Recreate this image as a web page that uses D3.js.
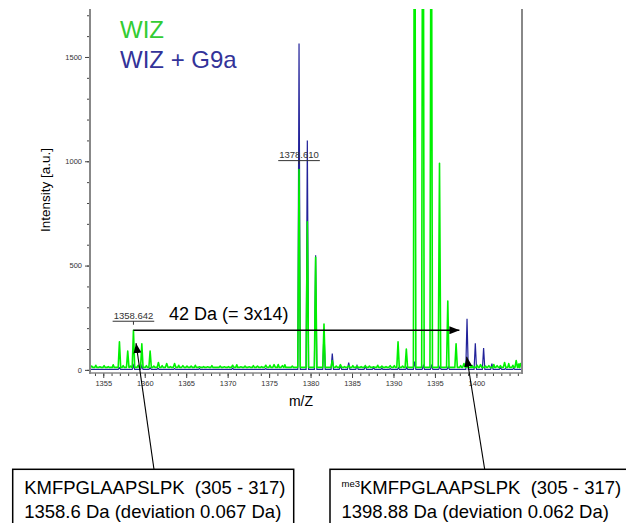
<!DOCTYPE html>
<html>
<head>
<meta charset="utf-8">
<script src="https://cdn.jsdelivr.net/npm/d3@7"></script>
<style>
  body { margin: 0; background: #fff; }
  svg { display: block; font-family: "Liberation Sans", Arial, sans-serif; }
  text { white-space: pre; }
</style>
</head>
<body>
<script>

// peaks: [m/z, intensity]
const wizPeaks = [
    [1356.95, 135], [1357.95, 90], [1358.64, 190], [1359.65, 125], [1360.65, 90],
    [1361.65, 35], [1362.65, 30], [1363.6, 30], [1364.6, 20], [1365.6, 18],
    [1366.6, 15], [1367.6, 15], [1368.6, 12], [1369.6, 15], [1370.6, 22],
    [1371.6, 15], [1372.6, 15], [1373.6, 18], [1374.6, 22], [1375.6, 25],
    [1376.6, 20], [1378.61, 960], [1379.61, 710], [1380.61, 540], [1381.62, 220],
    [1382.62, 45], [1383.6, 25], [1384.6, 20], [1385.6, 18], [1386.6, 20],
    [1387.6, 15], [1388.6, 18], [1389.6, 20], [1390.55, 135], [1391.55, 100],
    [1392.55, 3200], [1393.55, 3600], [1394.55, 3000], [1395.55, 990], [1396.55, 330],
    [1397.55, 125], [1398.5, 30], [1399.5, 20], [1400.5, 25], [1401.5, 20],
    [1402.5, 20], [1403.4, 35], [1404.8, 45], [1405.3, 30]
]

const g9aPeaks = [
    [1356.95, 10], [1358.64, 22], [1359.65, 20], [1360.65, 10],
    [1378.61, 1565], [1379.61, 1100], [1380.61, 550], [1381.62, 190], [1382.62, 78],
    [1383.6, 20], [1384.6, 35], [1385.6, 20], [1386.6, 18], [1387.6, 10],
    [1392.55, 40], [1393.6, 20], [1394.6, 20], [1395.6, 15], [1396.6, 15],
    [1398.87, 245], [1399.87, 128], [1400.87, 105], [1401.87, 30], [1402.9, 10]
]

// baseline noise
const wizNoise = [
    [1353.6, 18], [1354.1, 22], [1354.6, 15], [1355.1, 20], [1355.6, 16], [1356.2, 24],
    [1357.4, 20], [1358.3, 18], [1359.2, 22], [1360.2, 20], [1361.1, 18], [1362.1, 20],
    [1363.1, 16], [1364.1, 22], [1365.1, 18], [1366.1, 22], [1367.1, 16], [1368.1, 20],
    [1369.1, 18], [1370.1, 16], [1371.1, 24], [1372.1, 18], [1373.1, 20], [1374.1, 16],
    [1375.1, 22], [1376.1, 26], [1376.9, 24], [1377.8, 18], [1383.1, 18], [1384.1, 16],
    [1385.1, 20], [1386.1, 16], [1387.1, 18], [1388.1, 22], [1389.1, 16], [1390.1, 20],
    [1391.1, 18], [1398.1, 20], [1398.9, 16], [1399.4, 18], [1400.1, 22], [1401.1, 18],
    [1402.1, 26], [1402.9, 20], [1403.9, 30], [1404.4, 22], [1405.1, 28]
]

const g9aNoise = [
    [1361.6, 8], [1363.6, 6], [1366.6, 6], [1370.6, 8], [1374.6, 6], [1388.6, 8],
    [1389.6, 6], [1390.6, 10], [1391.6, 12], [1403.5, 6], [1404.5, 8]
]

const xMajor = [1355, 1360, 1365, 1370, 1375, 1380, 1385, 1390, 1395, 1400]
const yMajor = [0, 500, 1000, 1500]

const legendNames = ['WIZ', 'WIZ + G9a']
const legendColors = ['#33cc33', '#333399']

const peakLabels = [
    { mz: 1358.64, h: 190, text: '1358.642' },
    { mz: 1378.61, h: 960, text: '1378.610' }
]

const shiftFrom = [1358.64, 190]
const shiftTo = [1397.95, 190]
const shiftText = '42 Da (= 3x14)'

const boxes = [
    { pre: '', line1: 'KMFPGLAAPSLPK  (305 - 317)', line2: '1358.6 Da (deviation 0.067 Da)', tip: [1358.95, 128] },
    { pre: 'me3', line1: 'KMFPGLAAPSLPK  (305 - 317)', line2: '1398.88 Da (deviation 0.062 Da)', tip: [1398.83, 63] }
]

const W = 626, H = 523
const plot = { left: 90, right: 522, top: 9, bottom: 373 }

const svg = d3.select('body').append('svg')
    .attr('width', W)
    .attr('height', H)

const x = d3.scaleLinear().domain([1353.4, 1405.5]).range([plot.left, plot.right])
const y = d3.scaleLinear().domain([-15, 1730]).range([plot.bottom, plot.top])

svg.append('defs').append('clipPath').attr('id', 'clip')
    .append('rect')
    .attr('x', plot.left).attr('y', plot.top)
    .attr('width', plot.right - plot.left).attr('height', plot.bottom - plot.top)

const marker = svg.select('defs').append('marker')
    .attr('id', 'arrow')
    .attr('markerUnits', 'userSpaceOnUse')
    .attr('viewBox', '0 0 10 8')
    .attr('refX', 10).attr('refY', 4)
    .attr('markerWidth', 10).attr('markerHeight', 8)
    .attr('orient', 'auto')
marker.append('path').attr('d', 'M0,0L10,4L0,8Z').attr('fill', '#000')

// spectrum as thin triangular spikes over a flat baseline
function spectrum(peaks, noise, base) {
    const all = peaks.map(p => [p[0], p[1], 0.15])
        .concat(noise.map(p => [p[0], p[1], 0.12]))
        .sort((a, b) => a[0] - b[0])
    const pts = [[x.domain()[0], base]]
    all.forEach(p => {
        pts.push([p[0] - p[2], base], [p[0], p[1]], [p[0] + p[2], base])
    })
    pts.push([x.domain()[1], base])
    return pts
}

const line = d3.line().x(d => x(d[0])).y(d => y(d[1]))

const spec = svg.append('g').attr('clip-path', 'url(#clip)')
spec.append('path')
    .attr('d', line(spectrum(g9aPeaks, g9aNoise, 2)))
    .attr('fill', 'none')
    .attr('stroke', '#22229a')
    .attr('stroke-width', 1.2)
spec.append('path')
    .attr('d', line(spectrum(wizPeaks, wizNoise, 12)))
    .attr('fill', 'none')
    .attr('stroke', '#00f000')
    .attr('stroke-width', 1.6)
    .attr('stroke-linejoin', 'round')

// axes
const yMinor = svg.append('g')
    .attr('transform', `translate(${plot.left},0)`)
    .call(d3.axisLeft(y).tickValues(d3.range(0, 1701, 100)).tickSize(3).tickFormat(''))
const yAxis = svg.append('g')
    .attr('transform', `translate(${plot.left},0)`)
    .call(d3.axisLeft(y).tickValues(yMajor).tickSize(5).tickPadding(3).tickFormat(d3.format('d')))
const xMinor = svg.append('g')
    .attr('transform', `translate(0,${plot.bottom})`)
    .call(d3.axisBottom(x).tickValues(d3.range(1354, 1406, 1)).tickSize(3).tickFormat(''))
const xAxis = svg.append('g')
    .attr('transform', `translate(0,${plot.bottom})`)
    .call(d3.axisBottom(x).tickValues(xMajor).tickSize(5).tickPadding(3).tickFormat(d3.format('d')))

;[yMinor, yAxis, xMinor, xAxis].forEach(g => {
    g.select('.domain').remove()
    g.selectAll('line').attr('stroke', '#444')
    g.selectAll('text').attr('fill', '#333').style('font-size', '7.5px')
})

svg.append('line')
    .attr('x1', plot.left).attr('x2', plot.left)
    .attr('y1', plot.top).attr('y2', plot.bottom + 1)
    .attr('stroke', '#888').attr('stroke-width', 2)
svg.append('line')
    .attr('x1', plot.right).attr('x2', plot.right)
    .attr('y1', plot.top).attr('y2', plot.bottom + 1)
    .attr('stroke', '#888').attr('stroke-width', 2)
svg.append('line')
    .attr('x1', plot.left).attr('x2', plot.right)
    .attr('y1', plot.bottom).attr('y2', plot.bottom)
    .attr('stroke', '#888').attr('stroke-width', 1.5)

svg.append('text')
    .attr('transform', 'translate(50,190) rotate(-90)')
    .attr('text-anchor', 'middle')
    .style('font-size', '13.5px')
    .text('Intensity [a.u.]')

svg.append('text')
    .attr('x', 301).attr('y', 406)
    .attr('text-anchor', 'middle')
    .style('font-size', '14px')
    .text('m/Z')

// legend
svg.selectAll('.legend')
    .data(legendNames)
    .enter().append('text')
    .attr('x', 120)
    .attr('y', (d, i) => 38 + i * 30)
    .attr('fill', (d, i) => legendColors[i])
    .style('font-size', '24px')
    .text(d => d)

// peak labels
peakLabels.forEach(p => {
    const px = x(p.mz), py = y(p.h) - 9
    const g = svg.append('g')
    const t = g.append('text')
        .attr('x', px).attr('y', py - 2.5)
        .attr('text-anchor', 'middle')
        .attr('fill', '#333')
        .style('font-size', '9.5px')
        .text(p.text)
    const w = t.node().getComputedTextLength()
    g.append('line')
        .attr('x1', px - w / 2 - 1).attr('x2', px + w / 2 + 1)
        .attr('y1', py).attr('y2', py)
        .attr('stroke', '#333').attr('stroke-width', 1)
    g.append('line')
        .attr('x1', px).attr('x2', px)
        .attr('y1', py).attr('y2', py + 3.5)
        .attr('stroke', '#333').attr('stroke-width', 1)
})

// mass shift arrow
svg.append('line')
    .attr('x1', x(shiftFrom[0])).attr('y1', y(shiftFrom[1]))
    .attr('x2', x(shiftTo[0])).attr('y2', y(shiftTo[1]))
    .attr('stroke', '#000').attr('stroke-width', 1.3)
    .attr('marker-end', 'url(#arrow)')
svg.append('text')
    .attr('x', 169).attr('y', 320)
    .style('font-size', '18px')
    .text(shiftText)

// sequence boxes with callouts
const boxPos = [
    { x: 12.7, w: 281, anchor: 154 },
    { x: 330, w: 310, anchor: 484.7 }
]
const boxTop = 469.3

boxes.forEach((b, i) => {
    const p = boxPos[i]
    svg.append('line')
        .attr('x1', p.anchor).attr('y1', boxTop)
        .attr('x2', x(b.tip[0])).attr('y2', y(b.tip[1]))
        .attr('stroke', '#000').attr('stroke-width', 1.1)
        .attr('marker-end', 'url(#arrow)')
    svg.append('rect')
        .attr('x', p.x).attr('y', boxTop)
        .attr('width', p.w).attr('height', 70)
        .attr('fill', '#fff')
        .attr('stroke', '#000').attr('stroke-width', 1.5)
    const t1 = svg.append('text')
        .attr('x', p.x + 11.5).attr('y', 494)
        .style('font-size', '18.5px')
    if (b.pre) {
        t1.append('tspan').style('font-size', '9.5px').attr('dy', -7).text(b.pre)
        t1.append('tspan').attr('dy', 7).text(b.line1)
    } else {
        t1.text(b.line1)
    }
    svg.append('text')
        .attr('x', p.x + 11.5).attr('y', 518)
        .style('font-size', '18.5px')
        .text(b.line2)
})

</script>
</body>
</html>
